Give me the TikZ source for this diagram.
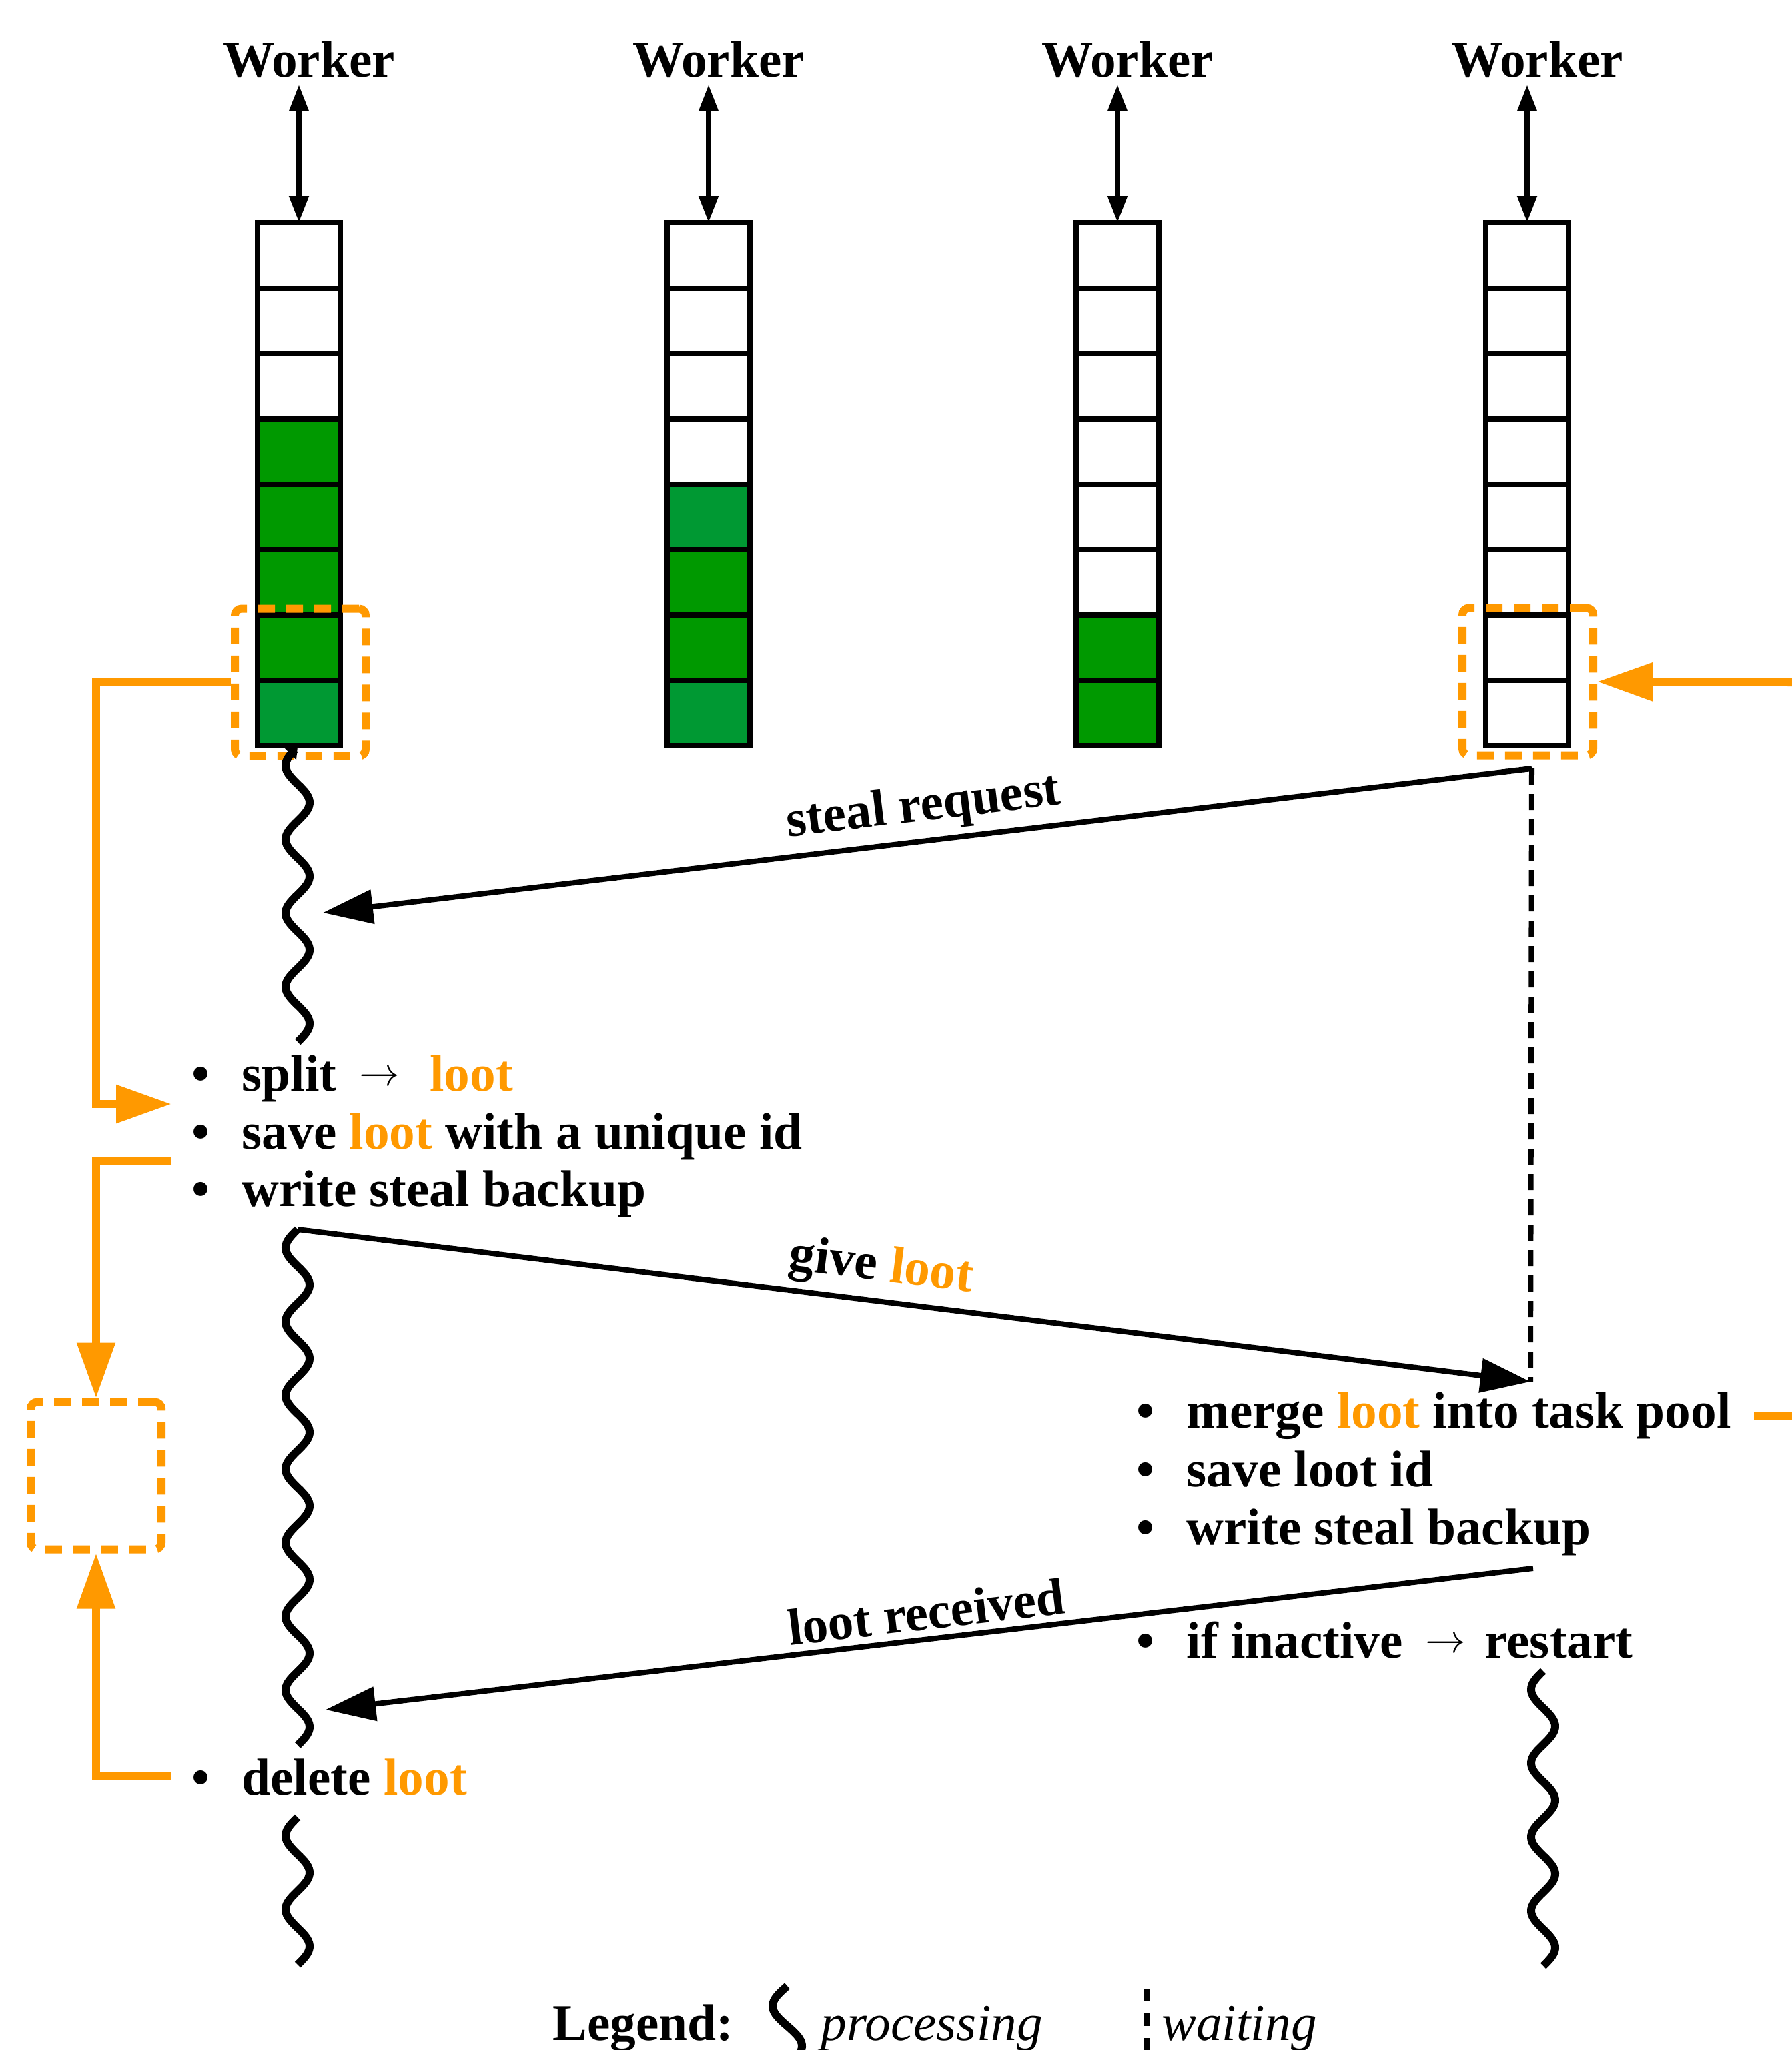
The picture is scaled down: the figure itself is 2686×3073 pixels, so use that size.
\documentclass[tikz,border=0pt]{standalone}
\usepackage{fontspec}
\setmainfont{Liberation Serif}
\usetikzlibrary{arrows.meta,shapes.multipart}
\definecolor{lootorange}{RGB}{255,153,0}
\definecolor{taskgreen}{RGB}{0,153,0}
\definecolor{taskteal}{RGB}{0,153,51}
\newcommand{\bul}{\makebox[7.5mm][l]{\textbullet}}
\newcommand{\lootword}{\textcolor{lootorange}{loot}}
\newcommand{\smallarr}{\raisebox{0.8mm}{\fontsize{16}{16}\selectfont$\rightarrow$}}

\begin{document}
\begin{tikzpicture}[
  x=0.1mm, y=-0.1mm,
  txt/.style={font=\fontsize{22}{26}\selectfont\bfseries},
  worker/.style={txt,anchor=base,inner sep=1mm},
  item/.style={txt,anchor=base west,inner sep=0pt},
  legitem/.style={anchor=base west,inner sep=0pt,font=\fontsize{22}{26}\selectfont\itshape},
  queue/.style={rectangle split,rectangle split parts=8,draw,line width=0.8mm,
    inner sep=0pt,outer sep=0pt,anchor=north,
    rectangle split empty part height=9.0mm,rectangle split empty part depth=0pt,
    rectangle split empty part width=10.7mm},
  lootbox/.style={draw=lootorange,line width=1.2mm,dash pattern=on 2.5mm off 1.7mm,
    rounded corners=1mm,minimum width=19.6mm,minimum height=22.1mm},
  dbl/.style={{Triangle[length=4mm,width=2.8mm]}-{Triangle[length=4mm,width=2.8mm]},line width=0.8mm},
  msg/.style={-{Triangle[length=7.5mm,width=5mm]},line width=0.8mm},
  lbl/.style={txt,sloped,above,inner sep=1mm},
  orangearr/.style={draw=lootorange,line width=1.2mm,-{Triangle[length=8.3mm,width=5.5mm]}},
  orangeline/.style={draw=lootorange,line width=1.2mm},
  proc/.style={line width=1.2mm},
  waitline/.style={line width=0.8mm,dash pattern=on 2.4mm off 1.4mm}
]
\useasboundingbox (0,0) rectangle (2686,3073);

% task queues
\node[queue,rectangle split part fill={white,white,white,taskgreen,taskgreen,taskgreen,taskgreen,taskteal}] (q1) at (448,334) {};
\node[queue,rectangle split part fill={white,white,white,white,taskteal,taskgreen,taskgreen,taskteal}] (q2) at (1062,334) {};
\node[queue,rectangle split part fill={white,white,white,white,white,white,taskgreen,taskgreen}] (q3) at (1675,334) {};
\node[queue] (q4) at (2289,334) {};

\node[worker] (w1) at (463,115) {Worker};
\node[worker] (w2) at (1077,115) {Worker};
\node[worker] (w3) at (1690,115) {Worker};
\node[worker] (w4) at (2304,115) {Worker};
\draw[dbl] (w1.south -| q1.north) -- (q1.north);
\draw[dbl] (w2.south -| q2.north) -- (q2.north);
\draw[dbl] (w3.south -| q3.north) -- (q3.north);
\draw[dbl] (w4.south -| q4.north) -- (q4.north);

% loot boxes
\node[lootbox] (grab) at (450,1023) {};
\node[lootbox] (put) at (2290,1022) {};
\node[lootbox] (bin) at (144,2212) {};

% steps
\node[item] (split) at (287,1635) {\bul split\hspace{3.4mm}\smallarr\hspace{4.5mm}\lootword};
\node[item] (savel) at (287,1722) {\bul save \lootword{} with a unique id};
\node[item] (backl) at (287,1808) {\bul write steal backup};
\node[item] (dell) at (287,2690) {\bul delete \lootword};
\node[item] (merge) at (1703,2140) {\bul merge \lootword{} into task pool};
\node[item] (saveid) at (1703,2228) {\bul save loot id};
\node[item] (backr) at (1703,2315) {\bul write steal backup};
\node[item] (restart) at (1703,2485) {\bul if inactive\hspace{3.4mm}\smallarr\hspace{2.8mm}restart};

% timelines (one period = 110.5)
\coordinate (p1t) at (446,1120);
\coordinate (p2t) at (446,1843);
\coordinate (p3t) at (446,2724);
\coordinate (p4t) at (2313,2505);
\draw[proc,{Triangle[length=1.5mm,width=2.4mm]}-,shift={(p1t)}]
  plot[domain=0:4,samples=100,smooth] ({-18*sin(\x*360)},{110.5*\x});
\draw[proc,shift={(p2t)}] plot[domain=0:7,samples=170,smooth] ({-18*sin(\x*360)},{110.5*\x});
\draw[proc,shift={(p3t)}] plot[domain=0:2,samples=50,smooth] ({-18*sin(\x*360)},{110.5*\x});
\draw[proc,shift={(p4t)}] plot[domain=0:4,samples=100,smooth] ({-18*sin(\x*360)},{110.5*\x});

% messages
\coordinate (reqstart) at (2296,1152);
\coordinate (reqend) at (484,1368);
\coordinate (giveend) at (2294,2071);
\coordinate (recstart) at (2298,2351);
\coordinate (recend) at (488,2563);
\draw[waitline] (reqstart) -- (giveend);
\draw[msg] (reqstart) -- node[lbl] {steal request} (reqend);
\draw[msg] (p2t) -- node[lbl,pos=0.47] {give \lootword} (giveend);
\draw[msg] (recstart) -- node[lbl] {loot received} (recend);

% loot flow
\coordinate (splitin) at (257,1655);
\coordinate (saveout) at (257,1740);
\coordinate (delout) at (257,2663);
\coordinate (rightin) at (2686,1023);
\draw[orangearr] (grab.west) -| (bin.north |- splitin) -- (splitin);
\draw[orangearr] (saveout) -| (bin.north);
\draw[orangearr] (delout) -| (bin.south);
\draw[orangearr] (rightin) -- (put.east);
\draw[orangeline] ([xshift=3.3mm]merge.east) -- (merge.east -| rightin);

% legend
\node[item] (legend) at (828,3058) {Legend:};
\coordinate (lgt) at (1180,2977);
\draw[proc,shift={(lgt)}] plot[domain=0:0.92,samples=40,smooth] ({-22*sin(\x*360)},{120*\x});
\node[legitem] (lproc) at (1230,3058) {processing};
\coordinate (lwt) at (1719,2981);
\coordinate (lwb) at (1719,3090);
\draw[waitline,dash pattern=on 1.9mm off 1.8mm] (lwt) -- (lwb);
\node[legitem] (lwait) at (1741,3058) {waiting};
\end{tikzpicture}
\end{document}
